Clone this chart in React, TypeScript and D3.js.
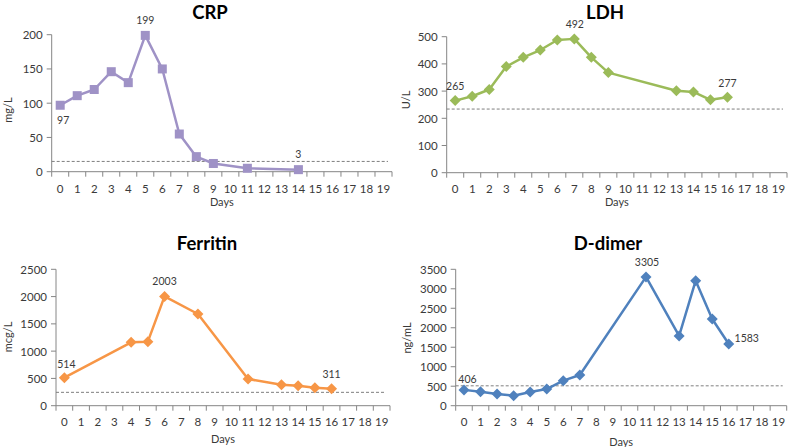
import React from "react";
import * as d3 from "d3";

const dayCategories = d3.range(0, 20).map(String);

const crpDays = [0, 1, 2, 3, 4, 5, 6, 7, 8, 9, 11, 14];
const crpValues = [97, 111, 120, 146, 130, 199, 150, 55, 22, 12, 5, 3];
const crpLabels = ["97", "", "", "", "", "199", "", "", "", "", "", "3"];
const crpRef = 15;

const ldhDays = [0, 1, 2, 3, 4, 5, 6, 7, 8, 9, 13, 14, 15, 16];
const ldhValues = [265, 281, 306, 390, 424, 451, 488, 492, 424, 368, 301, 297, 268, 277];
const ldhLabels = ["265", "", "", "", "", "", "", "492", "", "", "", "", "", "277"];
const ldhRef = 234;

const ferDays = [0, 4, 5, 6, 8, 11, 13, 14, 15, 16];
const ferValues = [514, 1161, 1174, 2003, 1681, 489, 385, 367, 330, 311];
const ferLabels = ["514", "", "", "2003", "", "", "", "", "", "311"];
const ferRef = 245;

const ddDays = [0, 1, 2, 3, 4, 5, 6, 7, 11, 13, 14, 15, 16];
const ddValues = [406, 359, 300, 257, 351, 428, 642, 787, 3305, 1789, 3209, 2225, 1583];
const ddLabels = ["406", "", "", "", "", "", "", "", "3305", "", "", "", "1583"];
const ddRef = 510;

type PanelCfg = {
  title: string;
  unit: string;
  days: number[];
  values: number[];
  labels: string[];
  refValue: number;
  yMax: number;
  yStep: number;
  color: string;
  marker: "square" | "diamond";
  axisX: number;
  right: number;
  yTop: number;
  yBottom: number;
  tickLabelY: number;
  daysY: number;
  titleX: number;
  titleY: number;
  unitX: number;
  unitY: number;
  labelOffsets: [number, number][];
};

const FONT = "Lato, 'Open Sans', sans-serif";
const AXIS = "#868686";
const TEXT = "#3a3a3a";

function Panel({ c }: { c: PanelCfg }) {
  const x = d3.scaleBand<string>().domain(dayCategories).range([c.axisX, c.right]);
  const y = d3.scaleLinear().domain([0, c.yMax]).range([c.yBottom, c.yTop]);
  const cx = (d: number) => (x(String(d)) as number) + x.bandwidth() / 2;
  const line = d3
    .line<number>()
    .x((_, i) => cx(c.days[i]))
    .y((v) => y(v));
  const yTicks = d3.range(0, c.yMax + c.yStep / 2, c.yStep);
  const boundaries = d3.range(0, dayCategories.length + 1).map((i) => c.axisX + i * x.bandwidth());
  let li = 0;
  return (
    <g>
      <text x={c.titleX} y={c.titleY} textAnchor="middle" fontFamily={FONT} fontWeight="bold" fontSize={18.5} fill="#000">
        {c.title}
      </text>
      <text
        transform={`translate(${c.unitX},${c.unitY}) rotate(-90)`}
        textAnchor="middle"
        dominantBaseline="central"
        fontFamily={FONT}
        fontSize={11}
        fill={TEXT}
      >
        {c.unit}
      </text>
      <line x1={c.axisX} x2={c.axisX} y1={c.yTop} y2={c.yBottom} stroke={AXIS} strokeWidth={1} />
      {yTicks.map((t) => (
        <g key={t}>
          <line x1={c.axisX - 5} x2={c.axisX} y1={y(t)} y2={y(t)} stroke={AXIS} />
          <text x={c.axisX - 9} y={y(t)} textAnchor="end" dominantBaseline="central" fontFamily={FONT} fontSize={11.5} fill={TEXT}>
            {t}
          </text>
        </g>
      ))}
      <line x1={c.axisX} x2={c.right} y1={c.yBottom} y2={c.yBottom} stroke={AXIS} />
      {boundaries.map((b, i) => (
        <line key={i} x1={b} x2={b} y1={c.yBottom} y2={c.yBottom + 5} stroke={AXIS} />
      ))}
      {dayCategories.map((d) => (
        <text key={d} x={cx(+d)} y={c.tickLabelY} textAnchor="middle" dominantBaseline="central" fontFamily={FONT} fontSize={11.5} fill={TEXT}>
          {d}
        </text>
      ))}
      <text x={(c.axisX + c.right) / 2} y={c.daysY} textAnchor="middle" dominantBaseline="central" fontFamily={FONT} fontSize={11} fill={TEXT}>
        Days
      </text>
      <line
        x1={c.axisX}
        x2={c.right - 4}
        y1={y(c.refValue)}
        y2={y(c.refValue)}
        stroke="#7f7f7f"
        strokeWidth={1}
        strokeDasharray="3,2"
      />
      <path d={line(c.values) || ""} fill="none" stroke={c.color} strokeWidth={2.5} strokeLinejoin="round" />
      {c.values.map((v, i) => {
        const px = cx(c.days[i]);
        const py = y(v);
        return c.marker === "square" ? (
          <rect key={i} x={px - 4.5} y={py - 4.5} width={9} height={9} fill={c.color} />
        ) : (
          <path key={i} d={`M${px},${py - 5.5}L${px + 5.5},${py}L${px},${py + 5.5}L${px - 5.5},${py}Z`} fill={c.color} />
        );
      })}
      {c.values.map((v, i) => {
        if (!c.labels[i]) return null;
        const off = c.labelOffsets[li++];
        return (
          <text
            key={"l" + i}
            x={cx(c.days[i]) + off[0]}
            y={y(v) + off[1]}
            textAnchor="middle"
            dominantBaseline="central"
            fontFamily={FONT}
            fontSize={10.5}
            fill={TEXT}
          >
            {c.labels[i]}
          </text>
        );
      })}
    </g>
  );
}

const panels: PanelCfg[] = [
  {
    title: "CRP", unit: "mg/L", days: crpDays, values: crpValues, labels: crpLabels, refValue: crpRef,
    yMax: 200, yStep: 50, color: "#9f92c6", marker: "square",
    axisX: 51.7, right: 392, yTop: 34.7, yBottom: 171.7, tickLabelY: 188, daysY: 201.7,
    titleX: 210, titleY: 18.5, unitX: 7, unitY: 110,
    labelOffsets: [[3, 15], [0, -15], [0, -15.5]],
  },
  {
    title: "LDH", unit: "U/L", days: ldhDays, values: ldhValues, labels: ldhLabels, refValue: ldhRef,
    yMax: 500, yStep: 100, color: "#9bbb59", marker: "diamond",
    axisX: 446.7, right: 787, yTop: 36.7, yBottom: 172.7, tickLabelY: 188, daysY: 201.7,
    titleX: 605, titleY: 18.5, unitX: 405, unitY: 100,
    labelOffsets: [[0, -14.5], [0.5, -15], [0, -14.5]],
  },
  {
    title: "Ferritin", unit: "mcg/L", days: ferDays, values: ferValues, labels: ferLabels, refValue: ferRef,
    yMax: 2500, yStep: 500, color: "#f79646", marker: "diamond",
    axisX: 56, right: 390, yTop: 269.3, yBottom: 405.7, tickLabelY: 421, daysY: 438,
    titleX: 207, titleY: 249.5, unitX: 7.3, unitY: 337,
    labelOffsets: [[2, -14], [0, -15], [0, -15]],
  },
  {
    title: "D-dimer", unit: "ng/mL", days: ddDays, values: ddValues, labels: ddLabels, refValue: ddRef,
    yMax: 3500, yStep: 500, color: "#4f81bd", marker: "diamond",
    axisX: 455.7, right: 786.7, yTop: 269.3, yBottom: 405.7, tickLabelY: 421, daysY: 441.7,
    titleX: 608, titleY: 250, unitX: 406.7, unitY: 338,
    labelOffsets: [[3.5, -11], [1, -15], [18, -6]],
  },
];

export default function App() {
  return (
    <svg width={791} height={447} style={{ position: "absolute", left: 0, top: 0, background: "#fff" }}>
      <rect width={791} height={447} fill="#fff" />
      {panels.map((p) => (
        <Panel key={p.title} c={p} />
      ))}
    </svg>
  );
}
